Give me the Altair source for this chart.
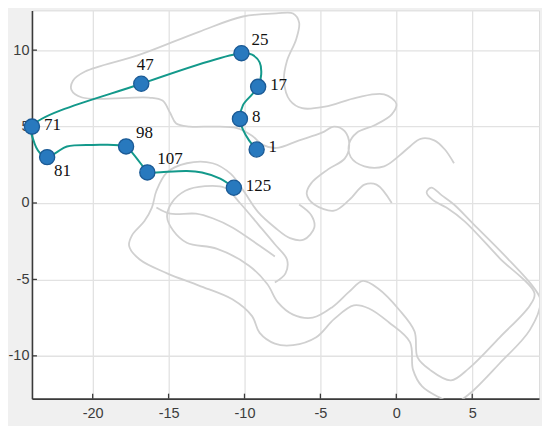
import altair as alt
import pandas as pd

X_TICKS = [-20, -15, -10, -5, 0, 5]
Y_TICKS = [-10, -5, 0, 5, 10]
X_DOMAIN = [-24.0, 9.4]
Y_DOMAIN = [-12.8, 12.6]

# grey background track (three pieces)
G1_X = [3.8, 3.2, 2.5, 1.6, 0.9, 0.2, -0.8, -2.1, -3.0, -3.1,
        -2.6, -1.4, -0.3, 0.0, -0.8, -2.6, -4.7, -6.2, -7.0, -7.4,
        -7.2, -6.6, -6.4, -6.8, -7.9, -10.1, -13.0, -16.9, -20.5, -21.3,
        -21.4, -20.7, -16.3, -15.4, -14.9, -14.5, -13.6, -12.0, -10.5, -9.5,
        -8.8, -7.9, -6.4, -4.9, -4.1, -3.4, -3.1, -3.4, -4.5, -5.6,
        -5.9, -5.4, -4.1, -3.1, -2.1, -1.3, -0.3]
G1_Y = [2.6, 3.5, 4.1, 4.2, 3.7, 3.1, 2.4, 2.4, 3.0, 3.9,
        4.6, 5.1, 5.8, 6.5, 7.1, 6.9, 6.3, 6.2, 6.7, 8.0,
        9.3, 10.7, 11.8, 12.4, 12.4, 12.2, 11.2, 9.7, 8.6, 8.0,
        7.4, 6.9, 6.9, 6.7, 5.9, 5.2, 5.0, 5.0, 4.9, 4.4,
        3.8, 3.6, 4.1, 4.6, 5.0, 4.7, 3.8, 2.9, 2.2, 1.3,
        0.6, -0.1, -0.5, 0.2, 1.2, 1.2, 0.0]

G2_X = [-6.4, -5.6, -5.4, -6.1, -7.0, -8.0, -9.1, -10.0, -10.9, -12.1,
        -13.8, -15.1, -15.8, -16.1, -16.6, -17.4, -17.6, -16.9, -15.1, -13.0,
        -10.8, -9.5, -9.0, -8.0, -6.8, -5.3, -4.1, -2.8, -1.8, -0.5,
        0.9, 1.1, 1.7, 2.8, 3.8, 4.8, 6.8, 8.8, 9.5, 9.1,
        7.1, 5.1, 3.8, 3.0, 2.3, 2.0, 2.4, 3.3, 4.5, 6.8,
        9.1, 8.8, 6.8, 4.8, 3.6, 2.2, 1.4, 1.2, 0.2, -1.2,
        -2.2, -3.1, -4.2, -5.5, -6.8, -7.8, -8.5, -9.7, -11.8, -13.8,
        -14.7, -15.1, -14.8, -13.9, -12.6, -11.3, -10.3, -9.1, -8.0, -7.2,
        -7.3, -8.0]
G2_Y = [-0.1, -0.8, -1.6, -2.4, -2.3, -1.6, -0.6, 0.7, 1.9, 2.6,
        2.6, 2.0, 0.8, -0.3, -1.2, -2.1, -2.8, -3.7, -4.6, -5.4,
        -6.3, -7.4, -8.5, -9.2, -9.3, -8.8, -7.6, -6.7, -6.9, -7.8,
        -9.1, -10.9, -12.0, -12.7, -13.1, -12.5, -10.5, -8.3, -6.4, -5.6,
        -3.4, -1.4, -0.1, 0.5, 1.0, 0.7, 0.2, -0.3, -1.2, -3.6,
        -5.9, -6.7, -8.8, -10.8, -11.6, -10.9, -10.1, -8.4, -7.0, -5.6,
        -5.1, -5.8, -6.8, -7.5, -7.3, -6.5, -5.3, -4.1, -3.0, -2.6,
        -1.8, -0.9, 0.0, 0.8, 1.1, 1.0, 0.0, -1.4, -2.7, -3.7,
        -4.6, -5.2]

G3_X = [-15.8, -14.9, -13.2, -12.1, -10.8, -9.0, -8.0]
G3_Y = [-0.3, -0.7, -0.7, -1.0, -1.6, -2.8, -3.5]

# teal trajectory (markers plus the bends between them)
TEAL_X = [-9.2, -9.7, -10.1, -10.3, -10.1, -9.5, -9.1, -8.9, -9.0, -9.5,
          -10.2, -16.8, -24.0, -23.9, -23.5, -23.0, -22.4, -21.7, -20.0, -17.8,
          -17.4, -16.7, -16.4, -15.8, -13.8, -12.8, -11.6, -10.7]
TEAL_Y = [3.5, 4.1, 4.8, 5.5, 6.4, 7.1, 7.6, 8.4, 9.2, 9.7,
          9.8, 7.8, 5.0, 4.1, 3.3, 3.0, 3.3, 3.7, 3.8, 3.7,
          3.3, 2.4, 2.0, 2.0, 2.1, 2.0, 1.6, 1.0]

# labelled markers
PT_X = [-9.2, -10.3, -9.1, -10.2, -16.8, -24.0, -23.0, -17.8, -16.4, -10.7]
PT_Y = [3.5, 5.5, 7.6, 9.8, 7.8, 5.0, 3.0, 3.7, 2.0, 1.0]
PT_LABEL = ["1", "8", "17", "25", "47", "71", "81", "98", "107", "125"]
PT_SIDE = ["e", "e", "e", "ne", "n", "e", "se", "ne", "ne", "e"]

rows = []
for seg, (xs_, ys_) in enumerate([(G1_X, G1_Y), (G2_X, G2_Y), (G3_X, G3_Y)]):
    for i, (a, b) in enumerate(zip(xs_, ys_)):
        rows.append({"seg": seg, "i": i, "x": a, "y": b})
track = pd.DataFrame(rows)
path = pd.DataFrame({"i": range(len(TEAL_X)), "x": TEAL_X, "y": TEAL_Y})
pts = pd.DataFrame({"x": PT_X, "y": PT_Y, "label": PT_LABEL, "side": PT_SIDE})

W, H = 508, 389
xs = alt.Scale(domain=X_DOMAIN, nice=False, zero=False)
ys = alt.Scale(domain=Y_DOMAIN, nice=False, zero=False)
common_axis = dict(grid=True, gridColor="#e2e2e2", gridWidth=1.3,
                   domainColor="#3a3a3a", domainWidth=1.6, ticks=False,
                   labelFont="Liberation Sans", labelFontSize=14.5,
                   labelColor="#3c3c3c", title=None, labelFlush=False, zindex=0,
                   labelExpr="toString(datum.value)")
x_axis = alt.Axis(values=X_TICKS, labelPadding=8, **common_axis)
y_axis = alt.Axis(values=Y_TICKS, labelPadding=3, **common_axis)

gray = alt.Chart(track).mark_line(
    color="#d0d0d0", strokeWidth=1.8, clip=True, interpolate="catmull-rom"
).encode(
    x=alt.X("x:Q", scale=xs, axis=x_axis),
    y=alt.Y("y:Q", scale=ys, axis=y_axis),
    detail="seg:N",
    order="i:Q",
)

xt = alt.Chart(pd.DataFrame({"v": X_TICKS})).mark_rule(color="#3a3a3a", strokeWidth=1.3).encode(
    x="v:Q", y=alt.value(H - 5), y2=alt.value(H))
yt = alt.Chart(pd.DataFrame({"v": Y_TICKS})).mark_rule(color="#3a3a3a", strokeWidth=1.3).encode(
    y="v:Q", x=alt.value(0), x2=alt.value(5))

teal = alt.Chart(path).mark_line(
    color="#13998b", strokeWidth=2, interpolate="catmull-rom"
).encode(x="x:Q", y="y:Q", order="i:Q")

dots = alt.Chart(pts).mark_circle(
    size=230, color="#2879be", stroke="#1b5a95", strokeWidth=1.3, opacity=1
).encode(x="x:Q", y="y:Q")

font = dict(font="Liberation Serif", fontSize=17, color="#111111", baseline="middle")
lab_e = alt.Chart(pts).transform_filter(alt.datum.side == "e").mark_text(
    align="left", dx=12, dy=-2, **font).encode(x="x:Q", y="y:Q", text="label:N")
lab_ne = alt.Chart(pts).transform_filter(alt.datum.side == "ne").mark_text(
    align="left", dx=10, dy=-13, **font).encode(x="x:Q", y="y:Q", text="label:N")
lab_n = alt.Chart(pts).transform_filter(alt.datum.side == "n").mark_text(
    align="center", dx=4, dy=-19, **font).encode(x="x:Q", y="y:Q", text="label:N")
lab_se = alt.Chart(pts).transform_filter(alt.datum.side == "se").mark_text(
    align="left", dx=7, dy=14, **font).encode(x="x:Q", y="y:Q", text="label:N")

chart = alt.layer(gray, xt, yt, teal, dots, lab_e, lab_ne, lab_n, lab_se).properties(
    width=W, height=H,
    autosize=alt.AutoSizeParams(type="none"),
    padding={"left": 24, "top": 2, "right": 3, "bottom": 27},
    background="#f0f0f0",
).configure_view(stroke="#dcdcdc", fill="white")

chart.save("out.html", embed_options={"renderer": "svg", "actions": False})
